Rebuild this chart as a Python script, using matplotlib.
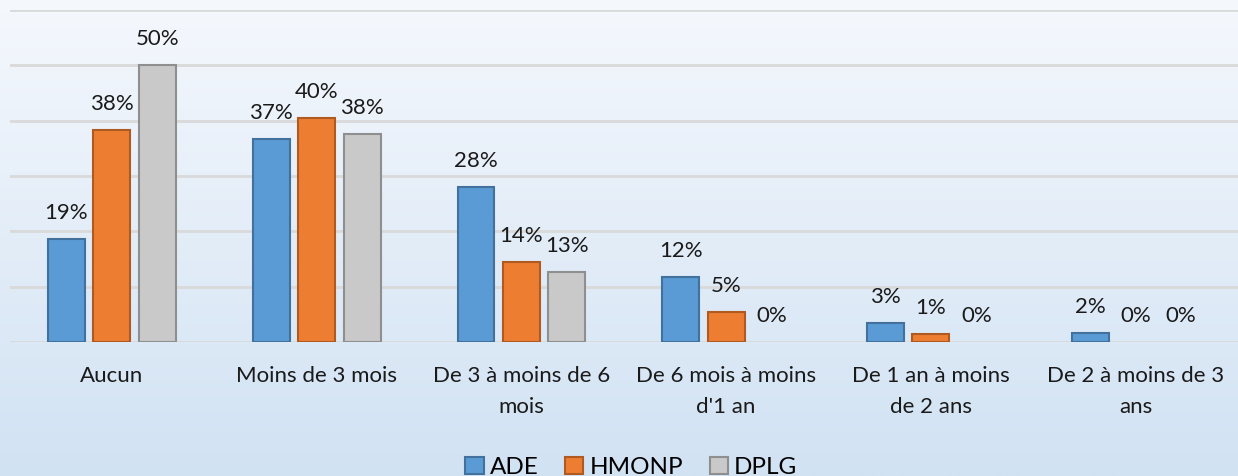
import numpy as np
import matplotlib.pyplot as plt
from matplotlib.colors import LinearSegmentedColormap

# Data
categories = [
    "Aucun",
    "Moins de 3 mois",
    "De 3 à moins de 6\nmois",
    "De 6 mois à moins\nd'1 an",
    "De 1 an à moins\nde 2 ans",
    "De 2 à moins de 3\nans",
]
series_names = ["ADE", "HMONP", "DPLG"]
ade = [18.6, 36.6, 28.0, 11.7, 3.4, 1.6]
hmonp = [38.3, 40.4, 14.4, 5.4, 1.4, 0.0]
dplg = [50.0, 37.6, 12.6, 0.0, 0.0, 0.0]

fill_colors = ["#5B9BD5", "#ED7D31", "#C9C9C9"]
edge_colors = ["#41719C", "#AE5A21", "#8F8F8F"]

plt.rcParams["font.family"] = ["Lato", "DejaVu Sans"]

fig = plt.figure(figsize=(12.38, 4.76), dpi=100)

# gradient background
bg = fig.add_axes([0, 0, 1, 1], zorder=-10)
cmap = LinearSegmentedColormap.from_list("bg", ["#d1e2f3", "#f5f8fd"])
grad = np.linspace(0, 1, 256).reshape(-1, 1)
bg.imshow(grad, aspect="auto", cmap=cmap, origin="lower", extent=[0, 1, 0, 1])
bg.axis("off")

ax = fig.add_axes([0.0077, 0.2815, 0.9923, 0.6975])
ax.set_facecolor("none")

x = np.arange(len(categories))
width = 0.18
offsets = [-0.222, 0.0, 0.222]

for vals, name, fc, ec, off in zip([ade, hmonp, dplg], series_names, fill_colors, edge_colors, offsets):
    lws = [1.5 if v > 0 else 0 for v in vals]
    bars = ax.bar(x + off, vals, width, color=fc, edgecolor=ec, linewidth=lws,
                  label=name, zorder=3)
    for b, v in zip(bars, vals):
        ax.annotate(f"{v:.0f}%", (b.get_x() + b.get_width() / 2, v),
                    xytext=(0, 19), textcoords="offset points",
                    ha="center", va="center", fontsize=16, color="#1a1a1a")

ax.set_xlim(-0.5, len(categories) - 0.5)
ax.set_ylim(0, 60)
ax.set_yticks(np.arange(0, 61, 10))
ax.yaxis.grid(True, color="#d9d9d9", linewidth=2, zorder=0)
ax.tick_params(axis="y", left=False, labelleft=False)
ax.tick_params(axis="x", length=0, pad=17)
ax.set_xticks(x)
ax.set_xticklabels(categories, fontsize=16, color="#1a1a1a", linespacing=1.7)
for s in ax.spines.values():
    s.set_visible(False)

handles, labels = ax.get_legend_handles_labels()
for h in handles:
    h.patches[0].set_linewidth(1.5)
leg = fig.legend(handles, labels, loc="lower center", ncol=3, frameon=False, fontsize=17.5,
                 bbox_to_anchor=(0.51, -0.05), handlelength=0.75, handleheight=0.75,
                 handletextpad=0.25, columnspacing=1.1)

fig.savefig("out.png", dpi=100)
